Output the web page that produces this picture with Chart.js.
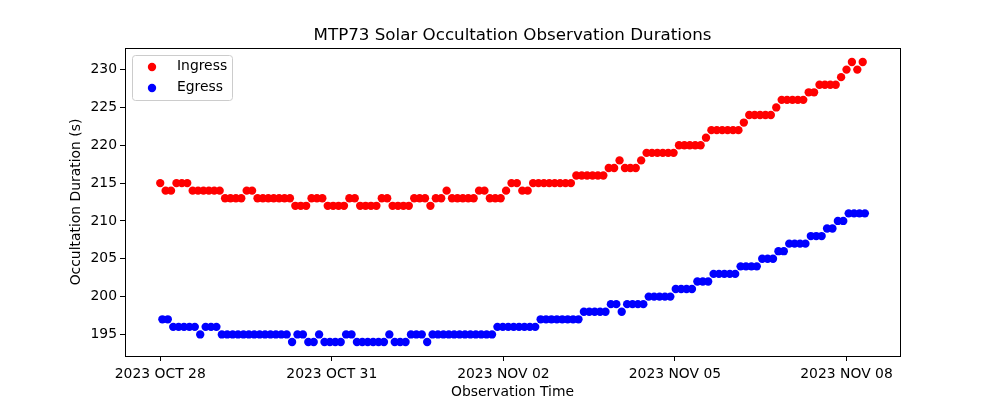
<!DOCTYPE html>
<html>
<head>
<meta charset="utf-8">
<script src="https://cdn.jsdelivr.net/npm/chart.js@4.4.1/dist/chart.umd.min.js"></script>
<style>
html, body { margin: 0; padding: 0; background: #fff; }
#wrap { width: 1000px; height: 400px; }
</style>
</head>
<body>
<div id="wrap"><canvas id="occ"></canvas></div>
<script>
// durations (s) per observation
const ingress = [
  215, 214, 214, 215, 215, 215, 214, 214, 214, 214, 214, 214,
  213, 213, 213, 213, 214, 214, 213, 213, 213, 213, 213, 213, 213,
  212, 212, 212, 213, 213, 213, 212, 212, 212, 212, 213, 213,
  212, 212, 212, 212, 213, 213, 212, 212, 212, 212, 213, 213, 213,
  212, 213, 213, 214, 213, 213, 213, 213, 213, 214, 214, 213, 213, 213,
  214, 215, 215, 214, 214,
  215, 215, 215, 215, 215, 215, 215, 215,
  216, 216, 216, 216, 216, 216, 217, 217, 218, 217, 217, 217, 218,
  219, 219, 219, 219, 219, 219, 220, 220, 220, 220, 220, 221,
  222, 222, 222, 222, 222, 222, 223, 224, 224, 224, 224, 224, 225,
  226, 226, 226, 226, 226, 227, 227, 228, 228, 228, 228,
  229, 230, 231, 230, 231
];
const egress = [
  197, 197, 196, 196, 196, 196, 196, 195, 196, 196, 196,
  195, 195, 195, 195, 195, 195, 195, 195, 195, 195, 195, 195, 195,
  194, 195, 195, 194, 194, 195, 194, 194, 194, 194, 195, 195,
  194, 194, 194, 194, 194, 194, 195, 194, 194, 194, 195, 195, 195, 194,
  195, 195, 195, 195, 195, 195, 195, 195, 195, 195, 195, 195,
  196, 196, 196, 196, 196, 196, 196, 196,
  197, 197, 197, 197, 197, 197, 197, 197,
  198, 198, 198, 198, 198, 199, 199, 198, 199, 199, 199, 199,
  200, 200, 200, 200, 200, 201, 201, 201, 201, 202, 202, 202,
  203, 203, 203, 203, 203, 204, 204, 204, 204, 205, 205, 205,
  206, 206, 207, 207, 207, 207, 208, 208, 208, 209, 209, 210, 210,
  211, 211, 211, 211
];
// egress comes a little after ingress within each observation
const egressLag = 0.4;

// x axis in observation-index units
const xTickPos = [0, 31.75, 63.5, 95.25, 127];
const xTickLabels = ["2023 OCT 28", "2023 OCT 31", "2023 NOV 02", "2023 NOV 05", "2023 NOV 08"];
const yTicks = [195, 200, 205, 210, 215, 220, 225, 230];

const FONT = "'DejaVu Sans', sans-serif";
Chart.defaults.font.family = FONT;
Chart.defaults.font.size = 13.9;
Chart.defaults.color = "#000";

const ingressPts = ingress.map((v, i) => ({ x: i, y: v }));
const egressPts = egress.map((v, i) => ({ x: i + egressLag, y: v }));

// box around the plot, like matplotlib spines
const frame = {
  id: "frame",
  afterDraw(chart) {
    const { ctx, chartArea: a } = chart;
    ctx.save();
    ctx.strokeStyle = "#000";
    ctx.lineWidth = 1;
    ctx.strokeRect(Math.round(a.left) + 0.5, Math.round(a.top) + 0.5,
      Math.round(a.right - a.left), Math.round(a.bottom - a.top));
    ctx.restore();
  }
};

// legend in the upper left corner of the plot
const cornerLegend = {
  id: "cornerLegend",
  afterDraw(chart) {
    const { ctx } = chart;
    const items = chart.data.datasets;
    ctx.save();
    ctx.beginPath();
    ctx.roundRect(132.5, 55.5, 100, 45, 3);
    ctx.fillStyle = "rgba(255,255,255,0.8)";
    ctx.fill();
    ctx.strokeStyle = "#cccccc";
    ctx.lineWidth = 1;
    ctx.stroke();
    ctx.font = "13.9px " + FONT;
    ctx.textBaseline = "middle";
    items.forEach((ds, i) => {
      const y = 67 + i * 21;
      ctx.beginPath();
      ctx.arc(152, y, 4.17, 0, Math.PI * 2);
      ctx.fillStyle = ds.backgroundColor;
      ctx.fill();
      ctx.fillStyle = "#000";
      ctx.fillText(ds.label, 177, y - 1);
    });
    ctx.restore();
  }
};

new Chart(document.getElementById("occ"), {
  type: "scatter",
  data: {
    datasets: [
      {
        label: "Ingress",
        data: ingressPts,
        backgroundColor: "#ff0000",
        borderWidth: 0,
        pointRadius: 4.17,
        pointHoverRadius: 4.17
      },
      {
        label: "Egress",
        data: egressPts,
        backgroundColor: "#0000ff",
        borderWidth: 0,
        pointRadius: 4.17,
        pointHoverRadius: 4.17
      }
    ]
  },
  options: {
    responsive: true,
    maintainAspectRatio: false,
    animation: false,
    layout: { padding: { left: 0, right: 100, top: 0, bottom: 0 } },
    plugins: {
      legend: { display: false },
      tooltip: { enabled: false },
      title: {
        display: true,
        fullSize: false,
        text: "MTP73 Solar Occultation Observation Durations",
        color: "#000",
        font: { size: 16.7, weight: "normal" },
        padding: { top: 26, bottom: 2 }
      }
    },
    scales: {
      x: {
        type: "linear",
        min: -6.52,
        max: 136.9,
        afterBuildTicks: (s) => { s.ticks = xTickPos.map(v => ({ value: v })); },
        afterFit: (s) => { s.height = 44; },
        ticks: {
          autoSkip: false,
          maxRotation: 0,
          padding: 5,
          color: "#000",
          callback: (v, i) => xTickLabels[i]
        },
        grid: { drawOnChartArea: false, tickLength: 5, color: "#000" },
        border: { color: "#000" },
        title: {
          display: true,
          text: "Observation Time",
          color: "#000",
          padding: { top: 0, bottom: -1 }
        }
      },
      y: {
        min: 192.15,
        max: 232.85,
        afterBuildTicks: (s) => { s.ticks = yTicks.map(v => ({ value: v })); },
        afterFit: (s) => { s.width = 125; },
        ticks: { padding: 3, color: "#000" },
        grid: { drawOnChartArea: false, tickLength: 5, color: "#000" },
        border: { color: "#000" },
        title: {
          display: true,
          text: "Occultation Duration (s)",
          color: "#000",
          padding: { top: 67.6, bottom: 0 }
        }
      }
    }
  },
  plugins: [frame, cornerLegend]
});
</script>
</body>
</html>
